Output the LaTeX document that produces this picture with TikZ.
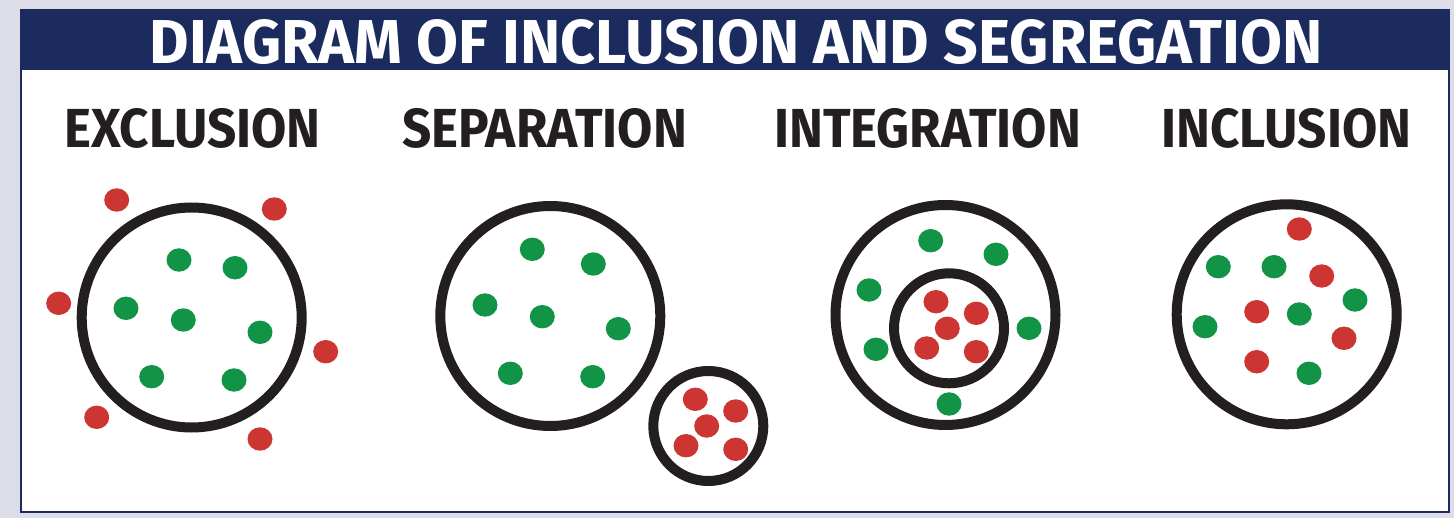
\documentclass[tikz,border=0pt]{standalone}
\usepackage{fontspec}
\newfontfamily\handfont[FakeStretch=0.93]{Fira Sans}
\newfontfamily\bannerfont[FakeStretch=0.98]{Fira Sans}
\definecolor{navy}{HTML}{1C2B5E}
\definecolor{pagegrey}{HTML}{DCDDE6}
\definecolor{ringblack}{HTML}{231F20}
\definecolor{dotred}{HTML}{CC3531}
\definecolor{dotgreen}{HTML}{129447}
\tikzset{
  ring/.style={draw=ringblack, line width=10pt},
  reddot/.style={fill=dotred},
  greendot/.style={fill=dotgreen},
  heading/.style={font=\handfont\bfseries\fontsize{55}{60}\selectfont, text=ringblack, inner sep=0pt},
  banner/.style={font=\bannerfont\bfseries\fontsize{62}{66}\selectfont, text=white, inner sep=0pt},
}

\begin{document}
\begin{tikzpicture}[x=1pt, y=-1pt]
  \useasboundingbox (0,0) rectangle (1454,518);
  \fill[pagegrey] (0,0) rectangle (1454,518);
  % panel and title bar
  \filldraw[fill=white, draw=navy, line width=2pt] (21,10) rectangle (1449,512);
  \fill[navy] (20,9) rectangle (1450,70);
  \node[banner] (title) at (736,42) {DIAGRAM OF INCLUSION AND SEGREGATION};
  % headings
  \node[heading] (exclusion) at (192.5,128) {EXCLUSION};
  \node[heading] (separation) at (544.5,128) {SEPARATION};
  \node[heading] (integration) at (927.5,128) {INTEGRATION};
  \node[heading] (inclusion) at (1286.5,128) {INCLUSION};
  % exclusion
  \draw[ring] (191.7,317.5) circle (110);
  \fill[reddot] (116.7,200) ellipse (12.5 and 11.7);
  \fill[reddot] (274.3,209) ellipse (12.5 and 11.7);
  \fill[reddot] (58.7,303.3) ellipse (12.5 and 11.7);
  \fill[reddot] (325.7,351.7) ellipse (12.5 and 11.7);
  \fill[reddot] (96.7,417.3) ellipse (12.5 and 11.7);
  \fill[reddot] (260,439) ellipse (12.5 and 11.7);
  \fill[greendot] (179,260) ellipse (12.5 and 11.7);
  \fill[greendot] (235,267.7) ellipse (12.5 and 11.7);
  \fill[greendot] (126,308.3) ellipse (12.5 and 11.7);
  \fill[greendot] (183.3,320) ellipse (12.5 and 11.7);
  \fill[greendot] (260,332.3) ellipse (12.5 and 11.7);
  \fill[greendot] (151.7,376.7) ellipse (12.5 and 11.7);
  \fill[greendot] (234,380) ellipse (12.5 and 11.7);
  % separation
  \draw[ring] (550.3,316) circle (110);
  \draw[ring] (708.3,426) circle (55);
  \fill[greendot] (532.3,249.3) ellipse (12.5 and 11.7);
  \fill[greendot] (593.3,264) ellipse (12.5 and 11.7);
  \fill[greendot] (485,305) ellipse (12.5 and 11.7);
  \fill[greendot] (542.3,316.7) ellipse (12.5 and 11.7);
  \fill[greendot] (618.3,328.7) ellipse (12.5 and 11.7);
  \fill[greendot] (510.3,373.3) ellipse (12.5 and 11.7);
  \fill[greendot] (592.7,376.7) ellipse (12.5 and 11.7);
  \fill[reddot] (695.3,399.3) ellipse (12.5 and 11.7);
  \fill[reddot] (735.7,411) ellipse (12.5 and 11.7);
  \fill[reddot] (706.7,426) ellipse (12.5 and 11.7);
  \fill[reddot] (686,445.7) ellipse (12.5 and 11.7);
  \fill[reddot] (735.7,449.3) ellipse (12.5 and 11.7);
  % integration
  \draw[ring] (945.5,315) circle (110);
  \draw[ring] (949,328.3) circle (55);
  \fill[greendot] (930.7,240.7) ellipse (12.5 and 11.7);
  \fill[greendot] (996,254.3) ellipse (12.5 and 11.7);
  \fill[greendot] (869,290) ellipse (12.5 and 11.7);
  \fill[greendot] (1029,328.3) ellipse (12.5 and 11.7);
  \fill[greendot] (876,349.3) ellipse (12.5 and 11.7);
  \fill[greendot] (949,404) ellipse (12.5 and 11.7);
  \fill[reddot] (936,301.7) ellipse (12.5 and 11.7);
  \fill[reddot] (976.3,313.3) ellipse (12.5 and 11.7);
  \fill[reddot] (947.3,328.3) ellipse (12.5 and 11.7);
  \fill[reddot] (926.7,348) ellipse (12.5 and 11.7);
  \fill[reddot] (976.3,351.7) ellipse (12.5 and 11.7);
  % inclusion
  \draw[ring] (1286.7,314.3) circle (110);
  \fill[reddot] (1299.3,229) ellipse (12.5 and 11.7);
  \fill[reddot] (1321.7,276) ellipse (12.5 and 11.7);
  \fill[reddot] (1256.7,311.7) ellipse (12.5 and 11.7);
  \fill[reddot] (1344,338.3) ellipse (12.5 and 11.7);
  \fill[reddot] (1256.7,361.7) ellipse (12.5 and 11.7);
  \fill[greendot] (1218.3,266.7) ellipse (12.5 and 11.7);
  \fill[greendot] (1274,266.7) ellipse (12.5 and 11.7);
  \fill[greendot] (1355,300) ellipse (12.5 and 11.7);
  \fill[greendot] (1299.3,314) ellipse (12.5 and 11.7);
  \fill[greendot] (1205,326.7) ellipse (12.5 and 11.7);
  \fill[greendot] (1309,373.3) ellipse (12.5 and 11.7);
\end{tikzpicture}
\end{document}
